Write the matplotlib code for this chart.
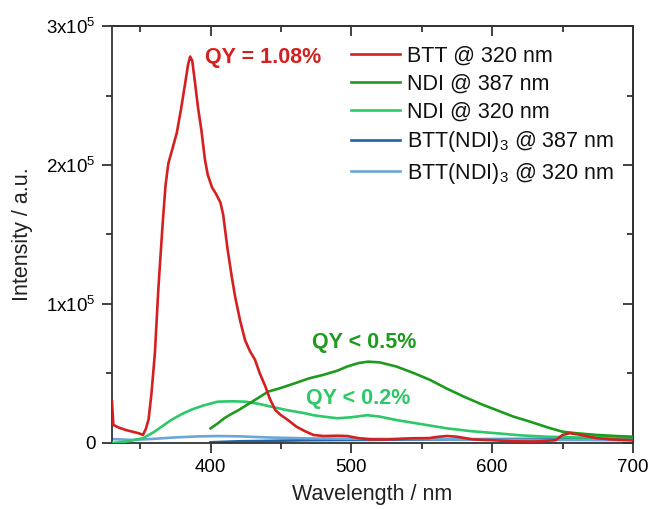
import matplotlib
matplotlib.use("Agg")
import matplotlib.pyplot as plt
from matplotlib.ticker import MultipleLocator, FixedLocator

plt.rcParams['font.family'] = ['Liberation Sans', 'DejaVu Sans']
plt.rcParams['mathtext.fontset'] = 'custom'
plt.rcParams['mathtext.rm'] = 'Liberation Sans'
plt.rcParams['mathtext.it'] = 'Liberation Sans:italic'
plt.rcParams['mathtext.bf'] = 'Liberation Sans:bold'

# ---- data (intensity in units of 1e5) ----
btt320_x = [330, 331, 335, 340, 345, 349, 352, 354, 356, 358, 360.5, 363, 366, 368, 370, 373, 376,
            379, 382, 384, 385.5, 387, 389, 391, 393.5, 396, 398, 401, 404, 407, 409, 412, 415,
            417.5, 421, 424.5, 428, 431.5, 435, 439, 442, 446, 450, 455, 461, 467, 473, 480, 490,
            497, 505, 513, 525, 535, 544, 555, 562, 568, 575, 586, 600, 615, 630, 645, 650, 655,
            662, 674, 685, 700]
btt320_y = [0.30, 0.13, 0.11, 0.093, 0.08, 0.07, 0.058, 0.10, 0.17, 0.35, 0.65, 1.12, 1.58, 1.85,
            2.01, 2.12, 2.23, 2.40, 2.59, 2.72, 2.78, 2.75, 2.59, 2.42, 2.25, 2.04, 1.93, 1.84,
            1.79, 1.73, 1.64, 1.40, 1.20, 1.05, 0.88, 0.74, 0.66, 0.60, 0.50, 0.405, 0.32, 0.237,
            0.20, 0.165, 0.117, 0.085, 0.058, 0.05, 0.052, 0.05, 0.035, 0.026, 0.025, 0.03, 0.034,
            0.035, 0.045, 0.05, 0.045, 0.026, 0.02, 0.012, 0.01, 0.02, 0.058, 0.07, 0.06, 0.035,
            0.025, 0.02]

ndi387_x = [400, 405, 410, 415, 420, 430, 441, 449, 460, 470, 480, 490, 497, 505, 512, 520, 532,
            545, 556, 568, 580, 592, 603, 615, 627, 640, 650, 660, 674, 688, 700]
ndi387_y = [0.105, 0.14, 0.18, 0.21, 0.237, 0.30, 0.37, 0.393, 0.43, 0.465, 0.49, 0.52, 0.55,
            0.575, 0.585, 0.58, 0.55, 0.50, 0.453, 0.39, 0.333, 0.28, 0.237, 0.19, 0.153, 0.11,
            0.081, 0.07, 0.058, 0.05, 0.045]

ndi320_x = [330, 340, 352, 360, 372, 380, 387, 395, 405, 415, 425, 435, 443, 455, 467, 473, 480,
            490, 500, 511, 520, 532, 550, 568, 585, 603, 620, 639, 660, 680, 700]
ndi320_y = [0.0, 0.01, 0.034, 0.08, 0.165, 0.21, 0.242, 0.27, 0.297, 0.30, 0.297, 0.28, 0.261,
            0.235, 0.214, 0.20, 0.19, 0.178, 0.185, 0.20, 0.19, 0.165, 0.135, 0.105, 0.085, 0.07,
            0.055, 0.045, 0.04, 0.04, 0.04]

bttndi387_x = [400, 420, 440, 470, 500, 550, 600, 650, 700]
bttndi387_y = [0.005, 0.012, 0.015, 0.02, 0.022, 0.025, 0.028, 0.03, 0.032]

bttndi320_x = [330, 345, 360, 375, 390, 405, 420, 440, 470, 500, 550, 600, 650, 700]
bttndi320_y = [0.028, 0.022, 0.03, 0.04, 0.047, 0.05, 0.048, 0.04, 0.033, 0.03, 0.028, 0.025,
               0.022, 0.02]

labels = ["BTT @ 320 nm", "NDI @ 387 nm", "NDI @ 320 nm",
          "BTT(NDI)$_3$ @ 387 nm", "BTT(NDI)$_3$ @ 320 nm"]
colors = ["#d42020", "#1e9a1e", "#2dc86a", "#1f63a8", "#6aa6d6"]

y_ticks = [0, 1, 2, 3]
y_ticklabels = ["0", "1x10$^5$", "2x10$^5$", "3x10$^5$"]
x_ticks = [400, 500, 600, 700]

SCALE = 1e5

fig = plt.figure(figsize=(6.48, 5.09), dpi=100)
ax = fig.add_axes([0.1728, 0.1297, 0.8041, 0.8192])

series = [(btt320_x, btt320_y), (ndi387_x, ndi387_y), (ndi320_x, ndi320_y),
          (bttndi387_x, bttndi387_y), (bttndi320_x, bttndi320_y)]
handles = []
zorders = [5, 4, 3, 2, 2]
for (xs, ys), c, lab, z in zip(series, colors, labels, zorders):
    h, = ax.plot(xs, [v * SCALE for v in ys], color=c, lw=1.9, label=lab, zorder=z,
                 solid_joinstyle='round')
    handles.append(h)

ax.set_xlim(330, 700)
ax.set_ylim(0, 3e5)
ax.xaxis.set_major_locator(FixedLocator(x_ticks))
ax.xaxis.set_minor_locator(MultipleLocator(50))
ax.yaxis.set_major_locator(FixedLocator([v * SCALE for v in y_ticks]))
ax.set_yticklabels(y_ticklabels)
ax.yaxis.set_minor_locator(MultipleLocator(0.5e5))

for s in ax.spines.values():
    s.set_linewidth(1.3)
    s.set_color('#333333')

ax.tick_params(axis='both', which='major', direction='out', length=7, width=1.3,
               color='#333333', labelsize=13.5, pad=4.5)
ax.tick_params(axis='both', which='minor', direction='out', length=4, width=1.3,
               color='#333333')

# mirrored inward ticks on top and right
secx = ax.secondary_xaxis('top')
secx.xaxis.set_major_locator(FixedLocator(x_ticks))
secx.xaxis.set_minor_locator(MultipleLocator(50))
secx.tick_params(which='major', direction='in', length=7, width=1.3, color='#333333',
                 labeltop=False)
secx.tick_params(which='minor', direction='in', length=4, width=1.3, color='#333333')
secx.spines['top'].set_linewidth(1.3)
secx.spines['top'].set_color('#333333')

secy = ax.secondary_yaxis('right')
secy.yaxis.set_major_locator(FixedLocator([v * SCALE for v in y_ticks]))
secy.yaxis.set_minor_locator(MultipleLocator(0.5e5))
secy.tick_params(which='major', direction='in', length=7, width=1.3, color='#333333',
                 labelright=False)
secy.tick_params(which='minor', direction='in', length=4, width=1.3, color='#333333')
secy.spines['right'].set_linewidth(1.3)
secy.spines['right'].set_color('#333333')

ax.set_xlabel("Wavelength / nm", fontsize=15.5, labelpad=6, color='#222222')
ax.set_ylabel("Intensity / a.u.", fontsize=15.5, labelpad=10, color='#222222')

ax.text(437, 2.77e5, "QY = 1.08%", color=colors[0], fontsize=15.5, fontweight='bold',
        ha='center', va='center')
ax.text(509, 0.72e5, "QY < 0.5%", color=colors[1], fontsize=15.5, fontweight='bold',
        ha='center', va='center')
ax.text(505, 0.32e5, "QY < 0.2%", color=colors[2], fontsize=15.5, fontweight='bold',
        ha='center', va='center')

leg = ax.legend(handles=handles, loc='upper left', bbox_to_anchor=(0.4587, 0.952),
                frameon=False, fontsize=15.5, handlelength=2.3, handletextpad=0.3,
                labelspacing=0.31, borderpad=0, borderaxespad=0)
for t in leg.get_texts():
    t.set_color('#111111')

fig.savefig("out.png", dpi=100)
